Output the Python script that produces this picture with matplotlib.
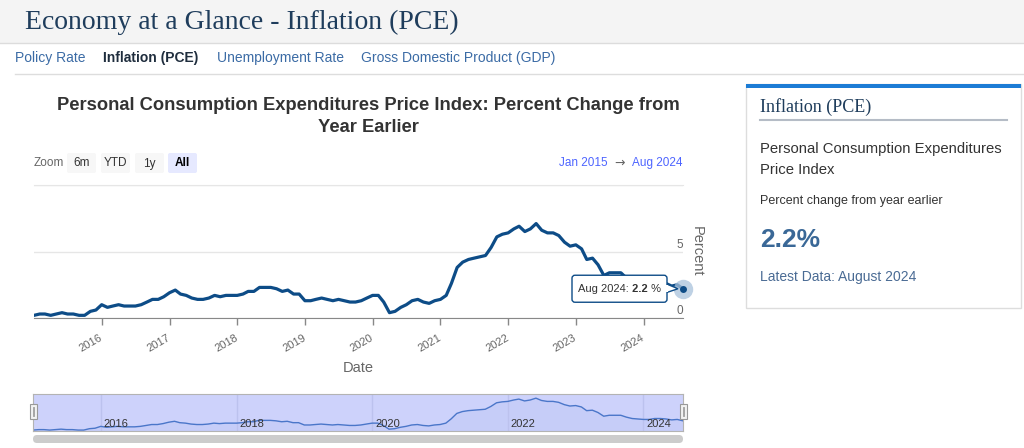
import matplotlib.pyplot as plt
import matplotlib.dates as mdates
from matplotlib.patches import Rectangle, FancyBboxPatch, Polygon
from matplotlib.transforms import ScaledTranslation
import pandas as pd

plt.rcParams['font.family'] = ['Liberation Sans', 'DejaVu Sans']

# PCE price index, percent change from year earlier (monthly)
months = pd.date_range('2015-01-01', '2024-08-01', freq='MS')
pce_2015 = [0.2, 0.3, 0.3, 0.2, 0.3, 0.4, 0.3, 0.3, 0.2, 0.2, 0.5, 0.6]
pce_2016 = [1.0, 0.8, 0.9, 1.0, 0.9, 0.9, 0.9, 1.0, 1.2, 1.4, 1.4, 1.6]
pce_2017 = [1.9, 2.1, 1.8, 1.7, 1.5, 1.4, 1.4, 1.5, 1.7, 1.6, 1.7, 1.7]
pce_2018 = [1.7, 1.8, 2.0, 2.0, 2.3, 2.3, 2.3, 2.2, 2.0, 2.1, 1.8, 1.8]
pce_2019 = [1.3, 1.3, 1.4, 1.5, 1.4, 1.3, 1.4, 1.3, 1.2, 1.2, 1.3, 1.5]
pce_2020 = [1.7, 1.7, 1.2, 0.4, 0.5, 0.8, 1.0, 1.3, 1.4, 1.2, 1.1, 1.3]
pce_2021 = [1.4, 1.7, 2.6, 3.8, 4.2, 4.4, 4.5, 4.6, 4.7, 5.3, 6.1, 6.3]
pce_2022 = [6.4, 6.7, 6.9, 6.5, 6.7, 7.1, 6.6, 6.4, 6.4, 6.2, 5.7, 5.4]
pce_2023 = [5.5, 5.2, 4.4, 4.5, 4.0, 3.2, 3.4, 3.4, 3.4, 3.0, 2.7, 2.6]
pce_2024 = [2.5, 2.5, 2.7, 2.7, 2.6, 2.4, 2.5, 2.2]
pce = (pce_2015 + pce_2016 + pce_2017 + pce_2018 + pce_2019 +
       pce_2020 + pce_2021 + pce_2022 + pce_2023 + pce_2024)

year_ticks = [pd.Timestamp(f'{y}-01-01') for y in range(2016, 2025)]
nav_years = [pd.Timestamp(f'{y}-01-01') for y in range(2016, 2025, 2)]
y_ticks = [0, 5, 10]
y_tick_labels = ['0', '5', '']
nav_tabs = ['Policy Rate', 'Inflation (PCE)', 'Unemployment Rate', 'Gross Domestic Product (GDP)']
nav_tab_x = [15, 103, 217, 361]
zoom_buttons = ['6m', 'YTD', '1y', 'All']
zoom_button_x = [67, 101, 135, 168]

W, H = 1024, 448
fig = plt.figure(figsize=(W / 100, H / 100), dpi=100)
page = fig.add_axes([0, 0, 1, 1])
page.set_xlim(0, W)
page.set_ylim(H, 0)
page.axis('off')


def px_axes(x0, y0, x1, y1):
    return fig.add_axes([x0 / W, 1 - y1 / H, (x1 - x0) / W, (y1 - y0) / H])


navy = '#1f3d5c'
line_blue = '#0d4c87'

# page header
page.add_patch(Rectangle((0, 0), W, 43, fc='#f4f4f4', ec='none'))
page.plot([0, W], [43, 43], color='#dcdcdc', lw=1)
page.text(25, 22, 'Economy at a Glance - Inflation (PCE)', family='Liberation Serif',
          fontsize=20, color=navy, va='center')

for name, x in zip(nav_tabs, nav_tab_x):
    active = name == 'Inflation (PCE)'
    page.text(x, 58, name, fontsize=10, va='center',
              color='#1f2d3d' if active else '#3b6ba5',
              weight='bold' if active else 'normal')
page.plot([15, W], [74, 74], color='#dddddd', lw=1)

# chart title and controls
page.text(368, 105, 'Personal Consumption Expenditures Price Index: Percent Change from',
          ha='center', va='center', fontsize=13.2, weight='bold', color='#333333')
page.text(368, 127, 'Year Earlier', ha='center', va='center', fontsize=13.2,
          weight='bold', color='#333333')

page.text(34, 163, 'Zoom', fontsize=8.5, color='#666666', va='center')
for name, x in zip(zoom_buttons, zoom_button_x):
    sel = name == 'All'
    page.add_patch(FancyBboxPatch((x, 153), 29, 20, boxstyle='round,pad=0,rounding_size=2',
                                  fc='#e6e9ff' if sel else '#f7f7f7', ec='none'))
    page.text(x + 14.5, 163.5, name, ha='center', va='center', fontsize=8.5,
              color='#000000' if sel else '#333333', weight='bold' if sel else 'normal')

page.text(583, 163, 'Jan 2015', ha='center', va='center', fontsize=8.5, color='#4d64ff')
page.text(620, 163, '\u2192', ha='center', va='center', fontsize=9, color='#666666',
          family='DejaVu Sans')
page.text(657, 163, 'Aug 2024', ha='center', va='center', fontsize=8.5, color='#4d64ff')

# main chart
ax = px_axes(34, 185, 683, 318)
ax.plot(months, pce, color=line_blue, lw=2.3, solid_joinstyle='round')
ax.plot(months[-1], pce[-1], 'o', ms=14, color='#a9c2dc', alpha=0.75, mec='none', clip_on=False)
ax.plot(months[-1], pce[-1], 'o', ms=5, color=line_blue, mec='none', clip_on=False)
ax.set_xlim(months[0], months[-1])
ax.set_ylim(0, 10)
ax.set_yticks(y_ticks)
ax.tick_params(axis='y', length=0, labelleft=False)
ax.grid(axis='y', color='#e6e6e6', lw=1)
ax.set_axisbelow(True)
for v, lab in zip(y_ticks, y_tick_labels):
    ax.text(1.0, v, lab, transform=ax.get_yaxis_transform() +
            ScaledTranslation(0, 1 / 100, fig.dpi_scale_trans),
            ha='right', va='bottom', fontsize=8.5, color='#666666')
for side in ['left', 'right']:
    ax.spines[side].set_visible(False)
ax.spines['top'].set_color('#e6e6e6')
ax.spines['bottom'].set_color('#888888')
ax.set_xticks(year_ticks)
ax.xaxis.set_major_formatter(mdates.DateFormatter('%Y'))
ax.tick_params(axis='x', length=5, width=1, color='#888888', labelsize=8,
               labelcolor='#666666', pad=9)
for lab in ax.get_xticklabels():
    lab.set_rotation(30)
    lab.set_ha('right')
    lab.set_va('center')
    lab.set_rotation_mode('anchor')
ax.set_xlabel('Date', fontsize=10.5, color='#666666', labelpad=5)
ax.text(1.0 + 14 / 649, 0.5, 'Percent', transform=ax.transAxes, rotation=270,
        ha='center', va='center', fontsize=10.5, color='#666666')

# navigator
nav = px_axes(33, 394, 683, 431)
nav.set_facecolor('#cdd2fb')
nav.plot(months, pce, color='#4a76c9', lw=1)
nav.fill_between(months, pce, 0, color='#4a76c9', alpha=0.05, lw=0)
nav.set_xlim(months[0], months[-1])
nav.set_ylim(0, 8)
nav.set_yticks([])
nav.set_xticks(nav_years)
nav.tick_params(axis='x', length=0, labelbottom=False)
nav.grid(axis='x', color='#bcc2ee', lw=1)
for d in nav_years:
    nav.text(d, 0.05, str(d.year),
             transform=nav.get_xaxis_transform() +
             ScaledTranslation(3 / 100, 0, fig.dpi_scale_trans),
             ha='left', va='bottom', fontsize=8, color='#333333')
for s in nav.spines.values():
    s.set_color('#b3b3b3')

# overlay for tooltip and navigator handles
top = fig.add_axes([0, 0, 1, 1], zorder=10)
top.set_xlim(0, W)
top.set_ylim(H, 0)
top.axis('off')
top.patch.set_alpha(0)

px, py = top.transData.inverted().transform(
    ax.transData.transform((mdates.date2num(months[-1]), pce[-1])))
bx0, bx1 = px - 111, px - 16
top.add_patch(Polygon([(bx1 - 1, py - 5), (px - 5, py), (bx1 - 1, py + 4)], closed=True,
                      fc='white', ec=line_blue, lw=1, zorder=2))
top.add_patch(FancyBboxPatch((bx0, py - 13.5), bx1 - bx0, 27,
                             boxstyle='round,pad=0,rounding_size=3',
                             fc='white', ec=line_blue, lw=1, zorder=3))
top.add_patch(Rectangle((bx1 - 2, py - 4), 2.5, 7.5, fc='white', ec='none', zorder=4))
t1 = top.text(bx0 + 6, py + 0.5, 'Aug 2024:', fontsize=8, color='#333333', va='center',
              zorder=5)
t2 = top.annotate(' 2.2', xy=(1, 0), xycoords=t1, va='bottom', fontsize=8,
                  weight='bold', color='#333333', zorder=5)
top.annotate(' %', xy=(1, 0), xycoords=t2, va='bottom', fontsize=8, color='#333333',
             zorder=5)

for hx in [30, 680]:
    top.add_patch(Rectangle((hx, 404), 7, 15, fc='#f2f2f2', ec='#999999', lw=0.8))
    top.plot([hx + 2.7, hx + 2.7], [407, 416], color='#999999', lw=0.6)
    top.plot([hx + 4.3, hx + 4.3], [407, 416], color='#999999', lw=0.6)

page.add_patch(FancyBboxPatch((33, 435), 650, 8, boxstyle='round,pad=0,rounding_size=4',
                              fc='#cccccc', ec='none'))

# side panel
page.add_patch(Rectangle((746, 84), 275, 224, fc='white', ec='#dddddd', lw=1))
page.add_patch(Rectangle((746, 84), 275, 4, fc='#1c7cd5', ec='none'))
page.text(760, 107, 'Inflation (PCE)', family='Liberation Serif', fontsize=13,
          color=navy, va='center')
page.plot([760, 1007], [120, 120], color='#b5bcc6', lw=1.5)
page.text(760, 149, 'Personal Consumption Expenditures', fontsize=10.7,
          color='#333333', va='center')
page.text(760, 170, 'Price Index', fontsize=10.7, color='#333333', va='center')
page.text(760, 201, 'Percent change from year earlier', fontsize=9, color='#333333',
          va='center')
page.text(760, 240, f'{pce[-1]:.1f}%', fontsize=19, weight='bold', color='#3a6897',
          va='center')
page.text(760, 277, 'Latest Data: August 2024', fontsize=10, color='#4a6b94', va='center')

fig.savefig('out.png', dpi=100)
